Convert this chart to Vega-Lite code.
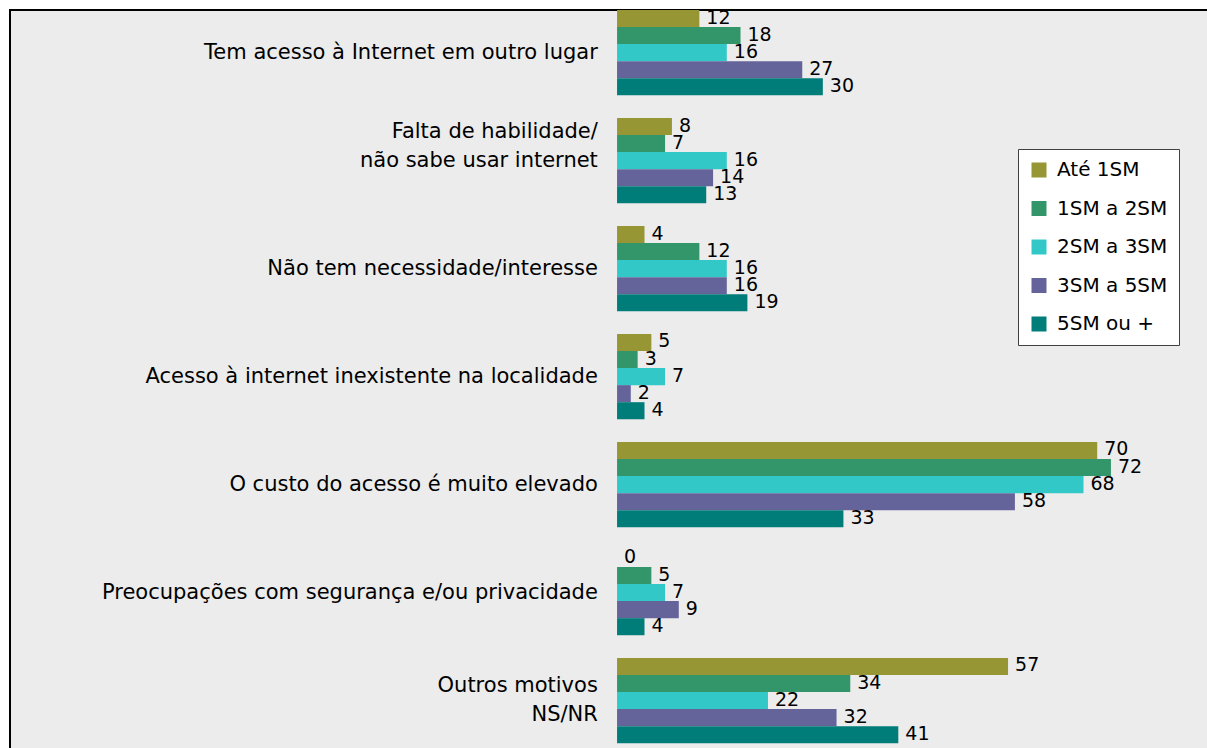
{
  "$schema": "https://vega.github.io/schema/vega-lite/v6.json",
  "autosize": {"type": "none"},
  "padding": {"left": 10, "top": 10, "right": 0, "bottom": 0},
  "width": 1210,
  "height": 760,
  "background": "white",
  "config": {
    "view": {"fill": "#ececec", "stroke": "black", "strokeWidth": 2},
    "font": "DejaVu Sans"
  },
  "datasets": {
    "bars": [
      {"motivo": "Tem acesso à Internet em outro lugar", "renda": "Até 1SM", "valor": 12},
      {"motivo": "Tem acesso à Internet em outro lugar", "renda": "1SM a 2SM", "valor": 18},
      {"motivo": "Tem acesso à Internet em outro lugar", "renda": "2SM a 3SM", "valor": 16},
      {"motivo": "Tem acesso à Internet em outro lugar", "renda": "3SM a 5SM", "valor": 27},
      {"motivo": "Tem acesso à Internet em outro lugar", "renda": "5SM ou +", "valor": 30},
      {"motivo": "Falta de habilidade/ não sabe usar internet", "renda": "Até 1SM", "valor": 8},
      {"motivo": "Falta de habilidade/ não sabe usar internet", "renda": "1SM a 2SM", "valor": 7},
      {"motivo": "Falta de habilidade/ não sabe usar internet", "renda": "2SM a 3SM", "valor": 16},
      {"motivo": "Falta de habilidade/ não sabe usar internet", "renda": "3SM a 5SM", "valor": 14},
      {"motivo": "Falta de habilidade/ não sabe usar internet", "renda": "5SM ou +", "valor": 13},
      {"motivo": "Não tem necessidade/interesse", "renda": "Até 1SM", "valor": 4},
      {"motivo": "Não tem necessidade/interesse", "renda": "1SM a 2SM", "valor": 12},
      {"motivo": "Não tem necessidade/interesse", "renda": "2SM a 3SM", "valor": 16},
      {"motivo": "Não tem necessidade/interesse", "renda": "3SM a 5SM", "valor": 16},
      {"motivo": "Não tem necessidade/interesse", "renda": "5SM ou +", "valor": 19},
      {"motivo": "Acesso à internet inexistente na localidade", "renda": "Até 1SM", "valor": 5},
      {"motivo": "Acesso à internet inexistente na localidade", "renda": "1SM a 2SM", "valor": 3},
      {"motivo": "Acesso à internet inexistente na localidade", "renda": "2SM a 3SM", "valor": 7},
      {"motivo": "Acesso à internet inexistente na localidade", "renda": "3SM a 5SM", "valor": 2},
      {"motivo": "Acesso à internet inexistente na localidade", "renda": "5SM ou +", "valor": 4},
      {"motivo": "O custo do acesso é muito elevado", "renda": "Até 1SM", "valor": 70},
      {"motivo": "O custo do acesso é muito elevado", "renda": "1SM a 2SM", "valor": 72},
      {"motivo": "O custo do acesso é muito elevado", "renda": "2SM a 3SM", "valor": 68},
      {"motivo": "O custo do acesso é muito elevado", "renda": "3SM a 5SM", "valor": 58},
      {"motivo": "O custo do acesso é muito elevado", "renda": "5SM ou +", "valor": 33},
      {"motivo": "Preocupações com segurança e/ou privacidade", "renda": "Até 1SM", "valor": 0},
      {"motivo": "Preocupações com segurança e/ou privacidade", "renda": "1SM a 2SM", "valor": 5},
      {"motivo": "Preocupações com segurança e/ou privacidade", "renda": "2SM a 3SM", "valor": 7},
      {"motivo": "Preocupações com segurança e/ou privacidade", "renda": "3SM a 5SM", "valor": 9},
      {"motivo": "Preocupações com segurança e/ou privacidade", "renda": "5SM ou +", "valor": 4},
      {"motivo": "Outros motivos NS/NR", "renda": "Até 1SM", "valor": 57},
      {"motivo": "Outros motivos NS/NR", "renda": "1SM a 2SM", "valor": 34},
      {"motivo": "Outros motivos NS/NR", "renda": "2SM a 3SM", "valor": 22},
      {"motivo": "Outros motivos NS/NR", "renda": "3SM a 5SM", "valor": 32},
      {"motivo": "Outros motivos NS/NR", "renda": "5SM ou +", "valor": 41}
    ],
    "cats": [
      {"motivo": "Tem acesso à Internet em outro lugar", "rotulo": "Tem acesso à Internet em outro lugar"},
      {"motivo": "Falta de habilidade/ não sabe usar internet", "rotulo": "Falta de habilidade/\nnão sabe usar internet"},
      {"motivo": "Não tem necessidade/interesse", "rotulo": "Não tem necessidade/interesse"},
      {"motivo": "Acesso à internet inexistente na localidade", "rotulo": "Acesso à internet inexistente na localidade"},
      {"motivo": "O custo do acesso é muito elevado", "rotulo": "O custo do acesso é muito elevado"},
      {"motivo": "Preocupações com segurança e/ou privacidade", "rotulo": "Preocupações com segurança e/ou privacidade"},
      {"motivo": "Outros motivos NS/NR", "rotulo": "Outros motivos\nNS/NR"}
    ]
  },
  "encoding": {
    "y": {
      "field": "motivo",
      "type": "nominal",
      "sort": null,
      "axis": null,
      "scale": {"paddingInner": 0.21, "paddingOuter": 0.124, "align": 0}
    }
  },
  "layer": [
    {
      "data": {"name": "bars"},
      "mark": {"type": "bar"},
      "encoding": {
        "x": {"field": "valor", "type": "quantitative", "axis": null, "scale": {"domain": [-88.5, 87.9], "nice": false, "zero": false}},
        "yOffset": {"field": "renda", "type": "nominal", "sort": null, "scale": {"paddingInner": 0, "paddingOuter": 0}},
        "color": {
          "field": "renda",
          "type": "nominal",
          "sort": null,
          "scale": {"domain": ["Até 1SM", "1SM a 2SM", "2SM a 3SM", "3SM a 5SM", "5SM ou +"], "range": ["#969634", "#33966a", "#33c8c8", "#64649a", "#007c79"]},
          "legend": {
            "title": null,
            "orient": "none",
            "legendX": 1008,
            "legendY": 139,
            "fillColor": "white",
            "strokeColor": "#404040",
            "padding": 11,
            "symbolType": "square",
            "symbolSize": 225,
            "symbolStrokeWidth": 0,
            "symbolOpacity": 1,
            "labelFontSize": 20,
            "labelColor": "black",
            "labelOffset": 8,
            "rowPadding": 18.5
          }
        }
      }
    },
    {
      "data": {"name": "bars"},
      "mark": {"type": "text", "align": "left", "baseline": "middle", "dx": 7, "dy": -1, "fontSize": 19, "color": "black"},
      "encoding": {
        "x": {"field": "valor", "type": "quantitative"},
        "yOffset": {"field": "renda", "type": "nominal", "sort": null},
        "text": {"field": "valor", "type": "quantitative"}
      }
    },
    {
      "data": {"name": "cats"},
      "transform": [{"filter": "indexof(datum.rotulo, '\\n') < 0"}],
      "mark": {"type": "text", "align": "right", "baseline": "middle", "fontSize": 21, "color": "black"},
      "encoding": {
        "x": {"datum": -2.8, "type": "quantitative"},
        "text": {"field": "rotulo"}
      }
    },
    {
      "data": {"name": "cats"},
      "transform": [{"filter": "datum.motivo == 'Falta de habilidade/ não sabe usar internet'"}],
      "mark": {"type": "text", "align": "right", "baseline": "middle", "dy": -29, "fontSize": 21, "lineBreak": "\n", "lineHeight": 29, "color": "black"},
      "encoding": {
        "x": {"datum": -2.8, "type": "quantitative"},
        "text": {"field": "rotulo"}
      }
    },
    {
      "data": {"name": "cats"},
      "transform": [{"filter": "datum.motivo == 'Outros motivos NS/NR'"}],
      "mark": {"type": "text", "align": "right", "baseline": "middle", "dy": -15, "fontSize": 21, "lineBreak": "\n", "lineHeight": 29, "color": "black"},
      "encoding": {
        "x": {"datum": -2.8, "type": "quantitative"},
        "text": {"field": "rotulo"}
      }
    }
  ]
}
